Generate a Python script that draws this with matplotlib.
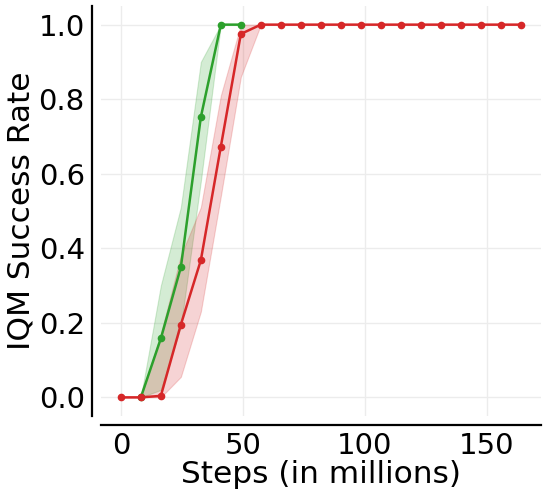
import numpy as np
import matplotlib.pyplot as plt

# steps in millions
steps_red = [0, 8.2, 16.4, 24.6, 32.8, 41.0, 49.2, 57.4, 65.6, 73.8, 82.0,
             90.2, 98.4, 106.6, 114.8, 123.0, 131.2, 139.4, 147.6, 155.8, 164.0]
steps_green = [8.2, 16.4, 24.6, 32.8, 41.0, 49.2]

green_iqm = [0.0, 0.158, 0.349, 0.752, 1.0, 1.0]
green_lo = [0.0, 0.02, 0.19, 0.58, 1.0, 1.0]
green_hi = [0.0, 0.30, 0.51, 0.90, 1.0, 1.0]

red_iqm = [0.0, 0.0, 0.004, 0.195, 0.368, 0.673, 0.975] + [1.0] * 14
red_lo = [0.0, 0.0, 0.0, 0.055, 0.23, 0.54, 0.86] + [1.0] * 14
red_hi = [0.0, 0.0, 0.17, 0.38, 0.51, 0.81, 1.0] + [1.0] * 14

GREEN = '#2ca02c'
RED = '#d62728'

fig = plt.figure(figsize=(5.48, 5.0), dpi=100)
ax = fig.add_axes([0.184, 0.168, 0.803, 0.820])

ax.fill_between(steps_green, green_lo, green_hi, color=GREEN, alpha=0.2, linewidth=0.8)
ax.plot(steps_green, green_iqm, color=GREEN, lw=1.8, marker='o', ms=4.5)
ax.fill_between(steps_red, red_lo, red_hi, color=RED, alpha=0.2, linewidth=0.8)
ax.plot(steps_red, red_iqm, color=RED, lw=1.8, marker='o', ms=4.5)

ax.set_xticks([0, 50, 100, 150])
ax.set_yticks([0.0, 0.2, 0.4, 0.6, 0.8, 1.0])
ax.grid(True, color='#ececec', lw=1)
ax.set_axisbelow(True)

for s in ['top', 'right']:
    ax.spines[s].set_visible(False)
for s in ['left', 'bottom']:
    ax.spines[s].set_position(('outward', 6.5))
    ax.spines[s].set_linewidth(1.6)
ax.tick_params(length=0, labelsize=21, pad=5)

ax.set_xlabel('Steps (in millions)', fontsize=22.5, labelpad=0)
ax.set_ylabel('IQM Success Rate', fontsize=22.5, labelpad=2)

fig.savefig('out.png', dpi=100)
